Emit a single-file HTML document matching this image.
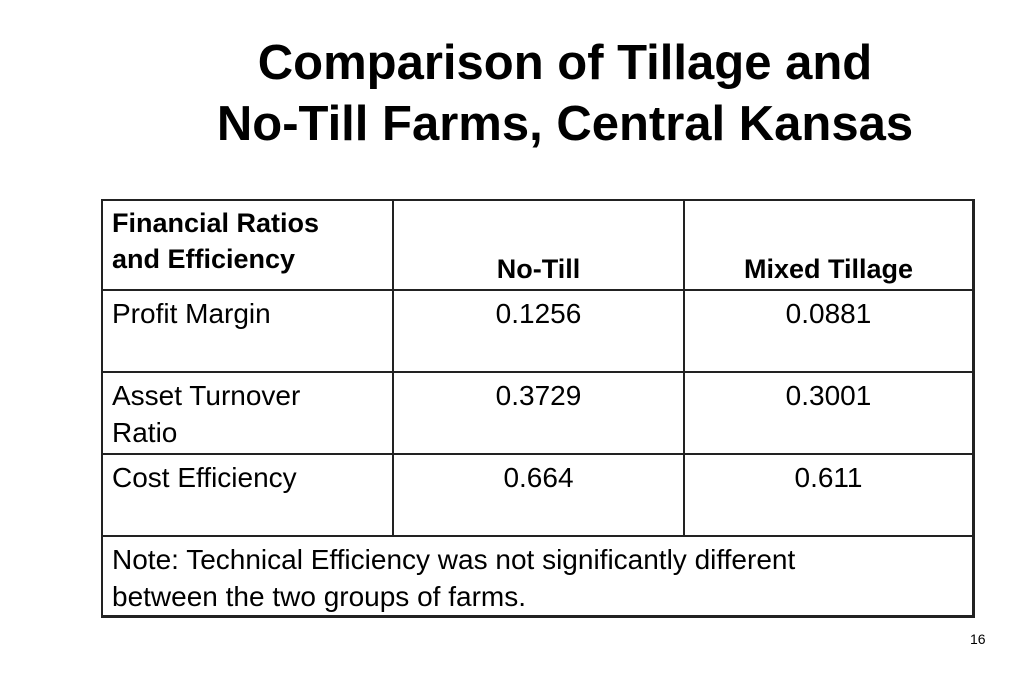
<!DOCTYPE html>
<html><head><meta charset="utf-8"><style>
body{margin:0;width:1023px;height:682px;background:#fff;position:relative;overflow:hidden;font-family:"Liberation Sans",sans-serif;color:#000}
.t{position:absolute;white-space:nowrap;font-size:28px;line-height:37px}
.c{text-align:center}
.b{font-weight:bold}
h1{position:absolute;left:100px;width:930px;top:33px;margin:0;text-align:center;font-size:49px;line-height:61px;font-weight:bold}
.h{position:absolute;height:2px;background:#222;left:101px;width:873px}
.v{position:absolute;width:2px;background:#222}
</style></head><body>
<h1>Comparison of Tillage and<br>No-Till Farms, Central Kansas</h1>
<div>
<div class="h" style="top:199px"></div>
<div class="h" style="top:289px"></div>
<div class="h" style="top:371px"></div>
<div class="h" style="top:453px"></div>
<div class="h" style="top:535px"></div>
<div class="h" style="top:615px;height:3px"></div>
<div class="v" style="left:101px;top:199px;height:419px"></div>
<div class="v" style="left:392px;top:199px;height:337px"></div>
<div class="v" style="left:683px;top:199px;height:337px"></div>
<div class="v" style="left:972px;top:199px;height:419px;width:3px"></div>

<div class="t b" style="left:112px;top:205px;line-height:36px;font-size:27px">Financial Ratios<br>and Efficiency</div>
<div class="t b c" style="left:394px;width:289px;top:251px;font-size:27px">No-Till</div>
<div class="t b c" style="left:685px;width:287px;top:251px;font-size:27px">Mixed Tillage</div>

<div class="t" style="left:112px;top:295px">Profit Margin</div>
<div class="t c" style="left:394px;width:289px;top:295px">0.1256</div>
<div class="t c" style="left:685px;width:287px;top:295px">0.0881</div>

<div class="t" style="left:112px;top:377px">Asset Turnover<br>Ratio</div>
<div class="t c" style="left:394px;width:289px;top:377px">0.3729</div>
<div class="t c" style="left:685px;width:287px;top:377px">0.3001</div>

<div class="t" style="left:112px;top:459px">Cost Efficiency</div>
<div class="t c" style="left:394px;width:289px;top:459px">0.664</div>
<div class="t c" style="left:685px;width:287px;top:459px">0.611</div>

<div class="t" style="left:112px;top:541px">Note: Technical Efficiency was not significantly different<br>between the two groups of farms.</div>
</div>
<div class="t" style="left:970px;top:630px;font-size:14px;line-height:18px">16</div>
</body></html>
